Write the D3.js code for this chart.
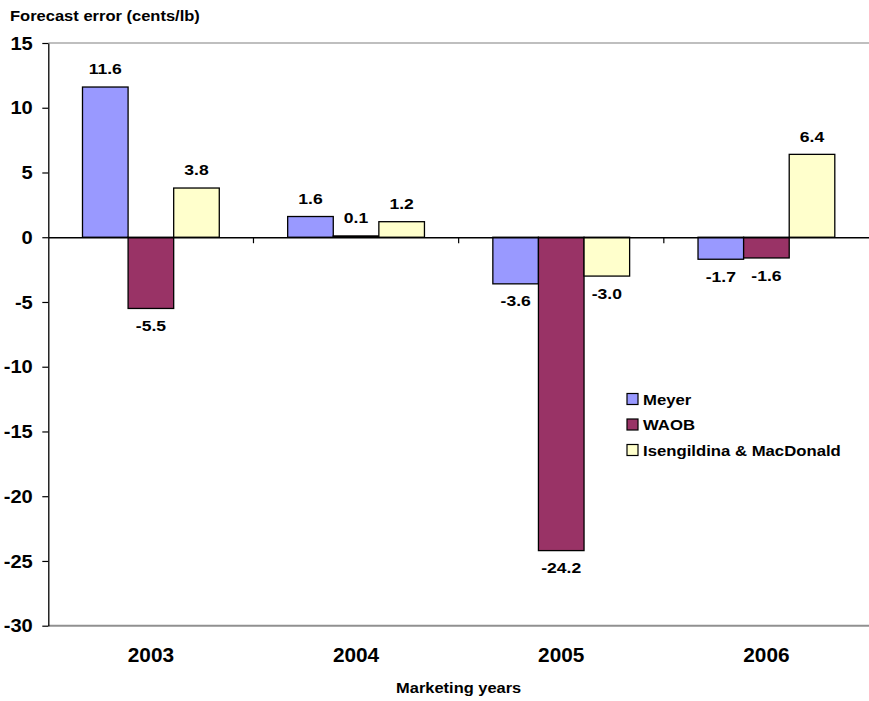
<!DOCTYPE html>
<html>
<head>
<meta charset="utf-8">
<script src="https://cdn.jsdelivr.net/npm/d3@7/dist/d3.min.js"></script>
<style>
  html, body { margin: 0; padding: 0; background: #fff; }
  svg { display: block; }
  text { font-family: "Liberation Sans", Arial, sans-serif; font-weight: bold; fill: #000; }
</style>
</head>
<body>
<svg id="chart" width="869" height="701"></svg>
<script>
// Marketing years and forecast errors (cents/lb) by source
const years = ["2003", "2004", "2005", "2006"];
const seriesNames = ["Meyer", "WAOB", "Isengildina & MacDonald"];
const meyer = [11.6, 1.6, -3.6, -1.7];
const waob = [-5.5, 0.1, -24.2, -1.6];
const isengildina = [3.8, 1.2, -3.0, 6.4];
const seriesColors = ["#9999FF", "#993366", "#FFFFCC"];
const yTicks = [15, 10, 5, 0, -5, -10, -15, -20, -25, -30];

const seriesValues = [meyer, waob, isengildina];
const rows = years.map((yr, i) => ({
  year: yr,
  values: seriesNames.map((s, k) => ({ series: s, value: seriesValues[k][i], color: seriesColors[k] }))
}));

const svg = d3.select("#chart");
const plot = { left: 48.3, right: 869, top: 43, bottom: 625.7 };

const y = d3.scaleLinear().domain([-30, 15]).range([plot.bottom, plot.top]);
const x0 = d3.scaleBand().domain(years).range([plot.left, plot.right]).paddingInner(0).paddingOuter(0);
const x1 = d3.scaleBand().domain(seriesNames).range([0, x0.bandwidth()]).paddingInner(0).paddingOuter(0.75);

// Horizontally widened text, as in the original chart's lettering
function placeText(sel, x, yy, sx) {
  sel.attr("transform", `translate(${x},${yy}) scale(${sx},1)`);
}

// Plot-area frame: grey top and bottom edges
svg.append("line").attr("x1", plot.left).attr("x2", plot.right)
  .attr("y1", plot.top).attr("y2", plot.top)
  .attr("stroke", "#808080").attr("stroke-width", 1.2);
svg.append("line").attr("x1", plot.left).attr("x2", plot.right)
  .attr("y1", plot.bottom).attr("y2", plot.bottom)
  .attr("stroke", "#909090").attr("stroke-width", 2);

// Bars
const groups = svg.append("g").selectAll("g").data(rows).join("g")
  .attr("transform", d => `translate(${x0(d.year)},0)`);

groups.selectAll("rect").data(d => d.values).join("rect")
  .attr("x", d => x1(d.series))
  .attr("width", x1.bandwidth())
  .attr("y", d => y(Math.max(0, d.value)))
  .attr("height", d => Math.abs(y(d.value) - y(0)))
  .attr("fill", d => d.color)
  .attr("stroke", "#000")
  .attr("stroke-width", 1.3);

// Value labels above positive bars, below negative ones
groups.selectAll("text").data(d => d.values).join("text")
  .attr("text-anchor", "middle")
  .style("font-size", "15px")
  .text(d => d.value.toFixed(1))
  .each(function (d) {
    const cx = x1(d.series) + x1.bandwidth() / 2;
    const ty = d.value >= 0 ? y(d.value) - 12.6 : y(d.value) + 22.6;
    placeText(d3.select(this), cx, ty, 1.17);
  });

// Y axis (plain hyphen for negative tick labels)
const yAxis = svg.append("g").attr("transform", `translate(${plot.left},0)`)
  .call(d3.axisLeft(y).tickValues(yTicks).tickSize(6).tickSizeOuter(0).tickFormat(d => String(d)));
yAxis.select(".domain").attr("stroke", "#000").attr("stroke-width", 1.3);
yAxis.selectAll(".tick line").attr("stroke", "#000").attr("stroke-width", 1.2);
yAxis.selectAll(".tick text")
  .attr("x", null).attr("dy", null)
  .attr("text-anchor", "end")
  .style("font-size", "17.5px")
  .style("font-family", "'Liberation Sans', Arial, sans-serif")
  .each(function () { placeText(d3.select(this), -15.5, 6.2, 1.15); });

// Zero line with category tick marks hanging below it
const xAxis = svg.append("g").attr("transform", `translate(0,${y(0)})`)
  .call(d3.axisBottom(x0).tickValues([]).tickSizeOuter(0));
xAxis.select(".domain").attr("stroke", "#000").attr("stroke-width", 1.3);
const boundaries = years.map(yr => x0(yr)).concat([plot.right]).slice(1, -1);
xAxis.selectAll(".bound").data(boundaries).join("line").attr("class", "bound")
  .attr("x1", d => d).attr("x2", d => d).attr("y1", 0).attr("y2", 6)
  .attr("stroke", "#000").attr("stroke-width", 1.2);

// Category labels
svg.append("g").selectAll("text").data(years).join("text")
  .attr("text-anchor", "middle")
  .style("font-size", "20px")
  .text(d => d)
  .each(function (d) { placeText(d3.select(this), x0(d) + x0.bandwidth() / 2, 662, 1.04); });

// Axis titles
svg.append("text").attr("text-anchor", "start").style("font-size", "14px")
  .text("Forecast error (cents/lb)")
  .call(s => placeText(s, 10, 21, 1.18));
svg.append("text").attr("text-anchor", "middle").style("font-size", "15.5px")
  .text("Marketing years")
  .call(s => placeText(s, (plot.left + plot.right) / 2, 693, 1.06));

// Legend
const legend = svg.append("g").attr("transform", "translate(627,399)");
const items = legend.selectAll("g").data(seriesNames).join("g")
  .attr("transform", (d, i) => `translate(0,${i * 25.5})`);
items.append("rect")
  .attr("x", 0).attr("y", -5.5).attr("width", 11).attr("height", 11)
  .attr("fill", (d, i) => seriesColors[i]).attr("stroke", "#000").attr("stroke-width", 1.2);
items.append("text").style("font-size", "15px").text(d => d)
  .each(function () { placeText(d3.select(this), 16, 5.5, 1.115); });
</script>
</body>
</html>
